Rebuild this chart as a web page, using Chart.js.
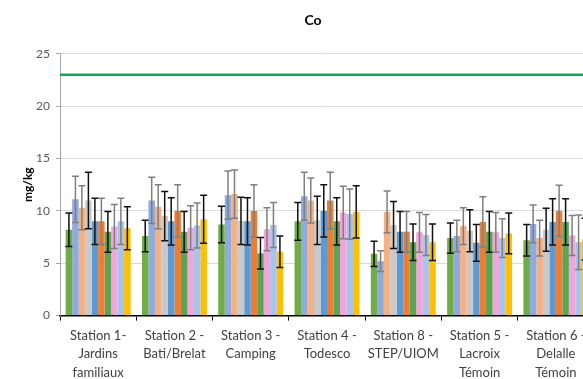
<!DOCTYPE html>
<html>
<head>
<meta charset="utf-8">
<script src="https://cdn.jsdelivr.net/npm/chart.js@4/dist/chart.umd.min.js"></script>
<style>
  html, body { margin: 0; padding: 0; background: #fff; overflow: hidden; }
  #wrap { width: 626px; height: 379px; }
</style>
</head>
<body>
<div id="wrap"><canvas id="c" width="626" height="379"></canvas></div>
<script>
// Stations (multi-line axis labels)
const stations = [
  ['Station 1-', 'Jardins', 'familiaux'],
  ['Station 2 -', 'Bati/Brelat'],
  ['Station 3 -', 'Camping'],
  ['Station 4 -', 'Todesco'],
  ['Station 8 -', 'STEP/UIOM'],
  ['Station 5 -', 'Lacroix', 'Témoin'],
  ['Station 6 -', 'Delalle', 'Témoin']
];

// Mean Co concentrations (mg/kg) per series, and their error margins
const serie1  = [8.2, 7.6, 8.7, 9.0, 5.9, 7.4, 7.2];
const err1    = [1.6, 1.5, 1.75, 1.8, 1.2, 1.45, 1.5];
const serie2  = [11.1, 11.0, 11.5, 11.4, 5.2, 7.6, 8.75];
const err2    = [2.2, 2.2, 2.3, 2.3, 1.0, 1.5, 1.8];
const serie3  = [10.3, 10.4, 11.6, 11.0, 9.9, 8.55, 7.4];
const err3    = [2.1, 2.1, 2.3, 2.15, 2.0, 1.75, 1.7];
const serie4  = [11.0, 9.5, 9.05, 9.1, 8.65, 8.1, 8.2];
const err4    = [2.7, 2.35, 2.25, 2.3, 2.25, 2.0, 2.05];
const serie5  = [9.0, 9.0, 9.0, 10.0, 8.0, 6.95, 8.95];
const err5    = [2.2, 2.25, 2.25, 2.5, 1.95, 1.75, 2.2];
const serie6  = [9.0, 10.0, 10.0, 11.0, 8.0, 8.95, 10.0];
const err6    = [2.2, 2.5, 2.5, 2.7, 1.95, 2.4, 2.45];
const serie7  = [8.0, 8.0, 5.95, 9.0, 7.0, 8.0, 8.95];
const err7    = [1.95, 1.95, 1.5, 2.25, 1.75, 1.95, 2.2];
const serie8  = [8.5, 8.4, 8.25, 9.85, 7.95, 7.95, 7.65];
const err8    = [2.1, 2.1, 2.05, 2.5, 1.9, 1.9, 1.9];
const serie9  = [9.0, 8.6, 8.65, 9.7, 7.7, 7.4, 7.0];
const err9    = [2.2, 2.15, 2.15, 2.4, 1.95, 1.85, 2.6];
const serie10 = [8.35, 9.2, 6.1, 9.9, 7.0, 7.85, 7.3];
const err10   = [2.05, 2.3, 1.5, 2.5, 1.75, 1.95, 2.0];

// Reference threshold (mg/kg)
const seuil = 23;

// Y axis ticks
const yTicks = [0, 5, 10, 15, 20, 25];

const series = [serie1, serie2, serie3, serie4, serie5, serie6, serie7, serie8, serie9, serie10];
const errors = [err1, err2, err3, err4, err5, err6, err7, err8, err9, err10];
const colors = ['#70AD47', '#8FAADC', '#F4B183', '#C9C9C9', '#5B9BD5',
                '#ED7D31', '#5AA454', '#F0A6DA', '#A9C4EB', '#FFC000'];
const errColors = ['#111', '#7f7f7f', '#7f7f7f', '#111', '#111',
                   '#7f7f7f', '#111', '#7f7f7f', '#7f7f7f', '#111'];

const datasets = series.map((d, i) => ({
  label: 'Série ' + (i + 1),
  data: d,
  erreurs: errors[i],
  errColor: errColors[i],
  backgroundColor: colors[i],
  borderWidth: 0,
  categoryPercentage: 0.851,
  barPercentage: 1.0
}));

// Error bars with caps
const errorBars = {
  id: 'errorBars',
  afterDatasetsDraw(chart) {
    const ctx = chart.ctx;
    const y = chart.scales.y;
    chart.data.datasets.forEach((ds, i) => {
      const meta = chart.getDatasetMeta(i);
      meta.data.forEach((bar, j) => {
        const v = ds.data[j], e = ds.erreurs[j];
        const yt = y.getPixelForValue(v + e);
        const yb = y.getPixelForValue(v - e);
        const x = bar.x, cap = 3.5;
        ctx.save();
        ctx.strokeStyle = ds.errColor;
        ctx.lineWidth = 1.5;
        ctx.beginPath();
        ctx.moveTo(x, yt); ctx.lineTo(x, yb);
        ctx.moveTo(x - cap, yt); ctx.lineTo(x + cap, yt);
        ctx.moveTo(x - cap, yb); ctx.lineTo(x + cap, yb);
        ctx.stroke();
        ctx.restore();
      });
    });
  }
};

// Horizontal threshold line across the plot area
const thresholdLine = {
  id: 'thresholdLine',
  afterDatasetsDraw(chart) {
    const ctx = chart.ctx;
    const a = chart.chartArea;
    const py = chart.scales.y.getPixelForValue(seuil);
    ctx.save();
    ctx.strokeStyle = '#00B050';
    ctx.lineWidth = 2.5;
    ctx.beginPath();
    ctx.moveTo(a.left, py);
    ctx.lineTo(a.right, py);
    ctx.stroke();
    ctx.restore();
  }
};

const FONT = 'Lato, "Open Sans", sans-serif';

new Chart(document.getElementById('c'), {
  type: 'bar',
  data: { labels: stations, datasets },
  options: {
    responsive: false,
    animation: false,
    layout: { padding: 0 },
    plugins: {
      legend: { display: false },
      tooltip: { enabled: false },
      title: {
        display: true,
        text: 'Co',
        color: '#000',
        font: { family: FONT, size: 14, weight: 'bold' },
        padding: { top: 12, bottom: 25 }
      }
    },
    scales: {
      x: {
        offset: true,
        grid: {
          offset: true,
          drawOnChartArea: false,
          drawTicks: true,
          tickLength: 5,
          tickColor: '#000'
        },
        border: { color: '#000', width: 1.5 },
        ticks: {
          color: '#404040',
          font: { family: FONT, size: 13, lineHeight: 1.42 },
          padding: 6,
          maxRotation: 0,
          autoSkip: false
        },
        afterFit(s) { s.height = 63.4; }
      },
      y: {
        min: 0,
        max: 25,
        afterBuildTicks(s) { s.ticks = yTicks.map(v => ({ value: v })); },
        ticks: {
          color: '#595959',
          font: { family: FONT, size: 12 },
          padding: 6
        },
        grid: {
          color: c => (c.tick && c.tick.value === 0) ? 'rgba(0,0,0,0)' : '#d9d9d9',
          tickColor: '#a6a6a6',
          tickLength: 4
        },
        border: { color: '#a6a6a6', width: 1 },
        title: {
          display: true,
          text: 'mg/kg',
          color: '#000',
          font: { family: FONT, size: 12, weight: 'bold' },
          padding: { top: 21, bottom: 0 }
        },
        afterFit(s) { s.width = 60; }
      },
      yRight: {
        position: 'right',
        display: true,
        grid: { display: false },
        border: { display: false },
        ticks: { display: false },
        afterFit(s) { s.width = 32; }
      }
    }
  },
  plugins: [errorBars, thresholdLine]
});
</script>
</body>
</html>
